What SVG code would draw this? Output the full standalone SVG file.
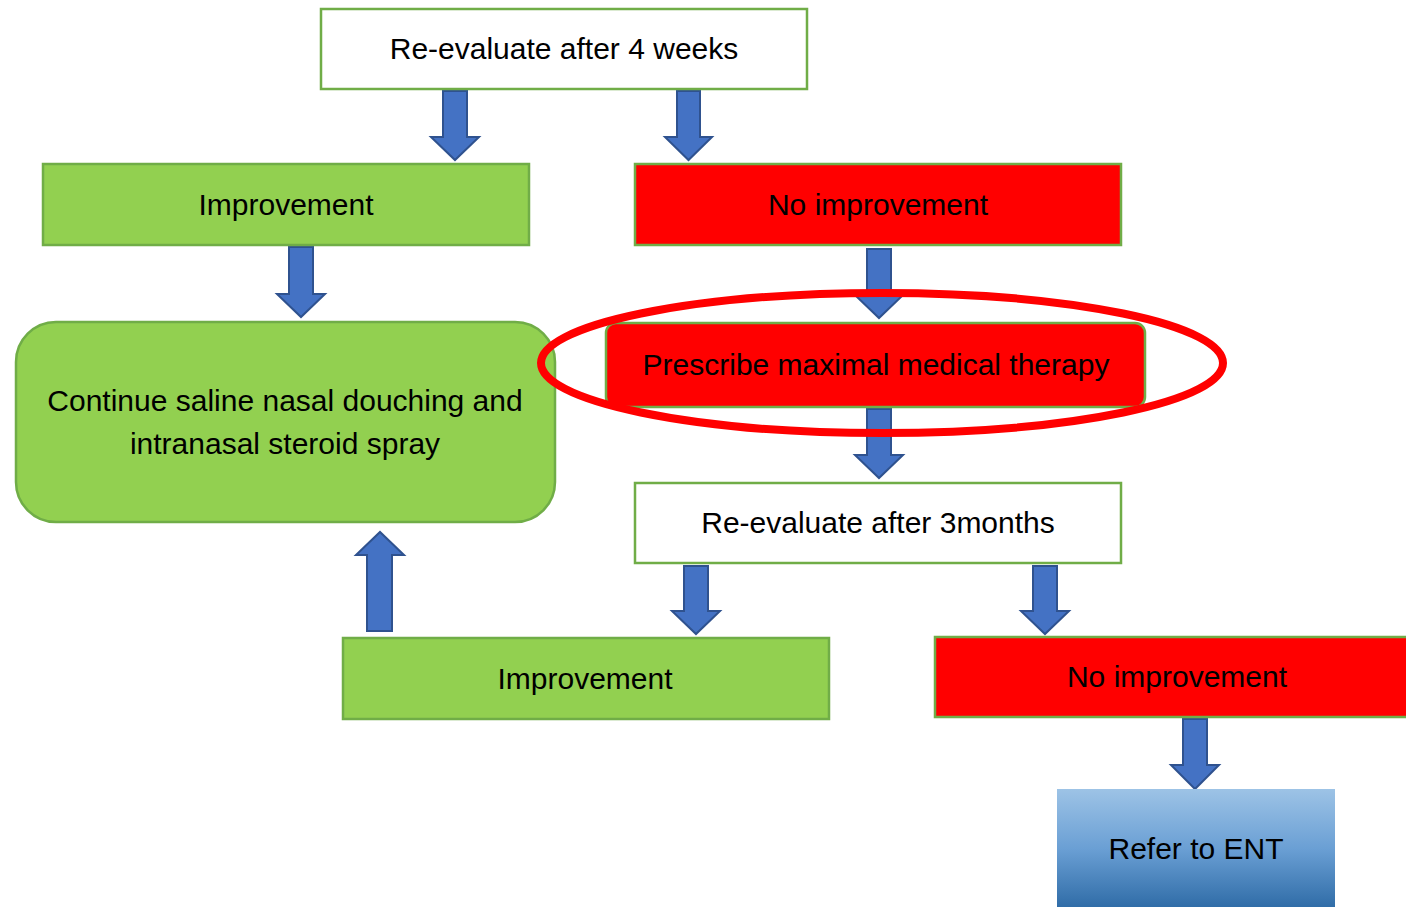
<svg xmlns="http://www.w3.org/2000/svg" width="1406" height="907" viewBox="0 0 1406 907">
<defs>
<style>
.box{stroke:#70AD47;stroke-width:2.5}
.white{fill:#FFFFFF}
.green{fill:#92D050}
.red{fill:#FF0000}
.arrow{fill:#4472C4;stroke:#2F528F;stroke-width:2;stroke-linejoin:miter}
text{font-family:"Liberation Sans","Noto Sans",sans-serif;font-size:30px;fill:#000;text-anchor:middle;dominant-baseline:central}
</style>
<linearGradient id="blueGrad" x1="0" y1="0" x2="0" y2="1">
<stop offset="0" stop-color="#9DC3E6"/>
<stop offset="0.5" stop-color="#6A9FD4"/>
<stop offset="1" stop-color="#2E6BA6"/>
</linearGradient>
</defs>
<rect width="1406" height="907" fill="#FFFFFF"/>

<g id="connectors">
<path class="arrow" d="M443,91 H467 V137 H479 L455,160 L431,137 H443 Z"/>
<path class="arrow" d="M677,91 H700 V137 H712 L688.5,160 L665,137 H677 Z"/>
<path class="arrow" d="M289,247 H313 V294 H325 L301,317 L277,294 H289 Z"/>
<path class="arrow" d="M867,249 H891 V295 H903 L879,318 L855,295 H867 Z"/>
<path class="arrow" d="M867,409 H891 V455 H903 L879,478 L855,455 H867 Z"/>
<path class="arrow" d="M684,566 H708 V611 H720 L696,634 L672,611 H684 Z"/>
<path class="arrow" d="M1033,566 H1057 V611 H1069 L1045,634 L1021,611 H1033 Z"/>
<path class="arrow" d="M367,631 H392 V555 H404 L380,532 L356,555 H367 Z"/>
<path class="arrow" d="M1183,719 H1207 V765 H1219 L1195,789 L1171,765 H1183 Z"/>
</g>

<g id="node-reeval4">
<rect class="box white" x="321" y="9" width="486" height="80"/>
<text x="564" y="48">Re-evaluate after 4 weeks</text>
</g>

<g id="node-improvement1">
<rect class="box green" x="43" y="164" width="486" height="81"/>
<text x="286" y="204">Improvement</text>
</g>

<g id="node-noimprovement1">
<rect class="box red" x="635" y="164" width="486" height="81"/>
<text x="878" y="204">No improvement</text>
</g>

<g id="node-continue">
<rect class="box green" x="16" y="322" width="539" height="200" rx="40" ry="40"/>
<text x="285" y="400">Continue saline nasal douching and</text>
<text x="285" y="443">intranasal steroid spray</text>
</g>

<g id="node-prescribe">
<rect class="box red" x="606" y="323" width="539" height="84" rx="10" ry="10"/>
<text x="876" y="364">Prescribe maximal medical therapy</text>
</g>

<g id="highlight">
<ellipse cx="882" cy="363" rx="341" ry="70" fill="none" stroke="#FF0000" stroke-width="8"/>
</g>

<g id="node-reeval3">
<rect class="box white" x="635" y="483" width="486" height="80"/>
<text x="878" y="522">Re-evaluate after 3months</text>
</g>

<g id="node-improvement2">
<rect class="box green" x="343" y="638" width="486" height="81"/>
<text x="585" y="678">Improvement</text>
</g>

<g id="node-noimprovement2">
<rect class="box red" x="935" y="637" width="486" height="80"/>
<text x="1177" y="676">No improvement</text>
</g>

<g id="node-refer">
<rect x="1057" y="789" width="278" height="120" fill="url(#blueGrad)"/>
<text x="1196" y="848">Refer to ENT</text>
</g>
</svg>
